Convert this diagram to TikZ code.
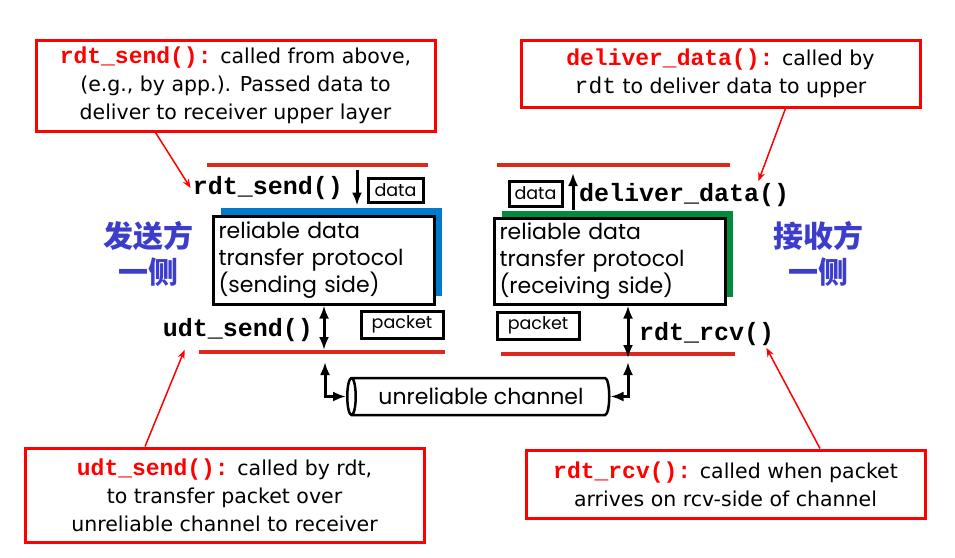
\documentclass[tikz,border=0pt]{standalone}
\usepackage{fontspec}
\setmainfont{DejaVu Sans}
\setmonofont{Liberation Mono}
\newfontfamily\protofont{Poppins}
\newfontfamily\cjkfont{Noto Sans CJK SC}
\usetikzlibrary{arrows.meta,shapes.geometric,shadows}
\definecolor{layerred}{RGB}{222,40,30}
\definecolor{noteblue}{RGB}{0,122,204}
\definecolor{notegreen}{RGB}{0,140,60}
\definecolor{sideblue}{RGB}{60,60,205}
\newcommand{\apicall}[1]{{\color{red}\fontsize{23}{28}\selectfont\ttfamily\bfseries #1}}

\begin{document}
\begin{tikzpicture}[
    x=1pt, y=-1pt,
    note/.style={draw=red, line width=3pt, align=center, font=\fontsize{20.5}{28}\selectfont, inner sep=0pt},
    fname/.style={font=\fontsize{25}{28}\selectfont\ttfamily\bfseries, inner sep=2pt},
    proto/.style={draw, line width=3pt, fill=white, align=left, text width=210pt, inner sep=4pt,
        font=\protofont\fontsize{22}{27}\selectfont},
    tag/.style={draw, line width=3pt, font=\protofont\fontsize{17.5}{18}\selectfont, inner sep=0pt},
    side/.style={text=sideblue, align=center, font=\cjkfont\bfseries\fontsize{30}{36}\selectfont},
    layer/.style={layerred, line width=4pt},
    flow/.style={line width=3pt, -{Latex[length=13pt,width=10pt]}},
    dbl/.style={line width=3pt, {Latex[length=13pt,width=10pt]}-{Latex[length=13pt,width=10pt]}},
    callout/.style={red, line width=1.5pt, -{Stealth[length=9pt,width=7pt]}}
]
\useasboundingbox (0,0) rectangle (955,557);

% Layer boundaries
\draw[layer] (207,165) -- (428,165);
\draw[layer] (199,352) -- (445,352);
\draw[layer] (497,165) -- (730,165);
\draw[layer] (501,354) -- (735,354);

% Protocol entities
\node[proto, minimum width=221pt, minimum height=88pt,
      general shadow={fill=noteblue, shadow xshift=8pt, shadow yshift=8pt}]
      (sendbox) at (323.5,260) {reliable data\\transfer protocol\\(sending side)};
\node[proto, minimum width=231pt, minimum height=86pt, text width=220pt,
      general shadow={fill=notegreen, shadow xshift=8pt, shadow yshift=7pt}]
      (rcvbox) at (609.5,261) {reliable data\\transfer protocol\\(receiving side)};

% Sender interface
\node[fname, anchor=east] (rdtsend) at (345,188) {rdt\_send()};
\node[tag, minimum width=55pt, minimum height=24pt] (senddata) at (395.5,190) {data};
\node[fname, anchor=east] (udtsend) at (315,330) {udt\_send()};
\node[tag, minimum width=82pt, minimum height=27pt] (sendpkt) at (402,324.5) {packet};
\coordinate (sendin) at (357,170);
\coordinate (sendlow) at (324,350);
\coordinate (sendtap) at (325,362);

% Receiver interface
\node[tag, minimum width=53pt, minimum height=25pt] (rcvdata) at (535.5,193.5) {data};
\node[fname, anchor=west] (deliverdata) at (577,195) {deliver\_data()};
\node[tag, minimum width=82pt, minimum height=27pt] (rcvpkt) at (538,325.5) {packet};
\node[fname, anchor=west] (rdtrcv) at (637,334) {rdt\_rcv()};
\coordinate (rcvout) at (573,173);
\coordinate (rcvlow) at (628,358);
\coordinate (rcvtap) at (628,362);

% Channel
\node[cylinder, shape border rotate=180, draw, line width=2.5pt, aspect=0.5,
      minimum height=262pt, minimum width=37pt, inner sep=0pt,
      font=\protofont\fontsize{22}{24}\selectfont] (channel) at (481,396.5) {unreliable channel};

% Side labels
\node[side] (sendside) at (148,254) {发送方\\一侧};
\node[side] (rcvside) at (818,254) {接收方\\一侧};

% Notes
\node[note, minimum width=399pt, minimum height=91pt] (sendnote) at (235.5,85.5)
    {\apicall{rdt\_send():} called from above,\\(e.g., by app.). Passed data to\\deliver to receiver upper layer};
\node[note, minimum width=399pt, minimum height=67pt] (delivnote) at (720.5,73.5)
    {\apicall{deliver\_data():} called by\\{\ttfamily\fontsize{23}{28}\selectfont rdt} to deliver data to upper};
\node[note, minimum width=399pt, minimum height=94pt] (udtnote) at (224.5,495)
    {\apicall{udt\_send():} called by rdt,\\to transfer packet over\\unreliable channel to receiver};
\node[note, minimum width=399pt, minimum height=68pt] (rcvnote) at (725.5,484)
    {\apicall{rdt\_rcv():} called when packet\\arrives on rcv-side of channel};

% Data flow
\draw[flow] (sendin) -- ([yshift=9pt]sendin |- sendbox.north);
\draw[dbl] (sendlow |- sendbox.south) -- (sendlow);
\draw[dbl] (sendtap) |- (channel.west);
\draw[flow] ([yshift=7pt]rcvout |- rcvbox.north) -- (rcvout);
\draw[dbl] (rcvlow |- rcvbox.south) -- (rcvlow);
\draw[dbl] (rcvtap) |- (channel.east);

% Callouts
\draw[callout] ([xshift=121pt]sendnote.south west) -- (rdtsend.west);
\draw[callout] ([xshift=65pt]delivnote.south) -- ([xshift=-33pt]deliverdata.north east);
\draw[callout] ([xshift=-79.5pt]udtnote.north) -- ([xshift=24pt,yshift=-6pt]udtsend.south west);
\draw[callout] ([xshift=94.5pt]rcvnote.north) -- ([xshift=-10pt]rdtrcv.south east);

\end{tikzpicture}
\end{document}
